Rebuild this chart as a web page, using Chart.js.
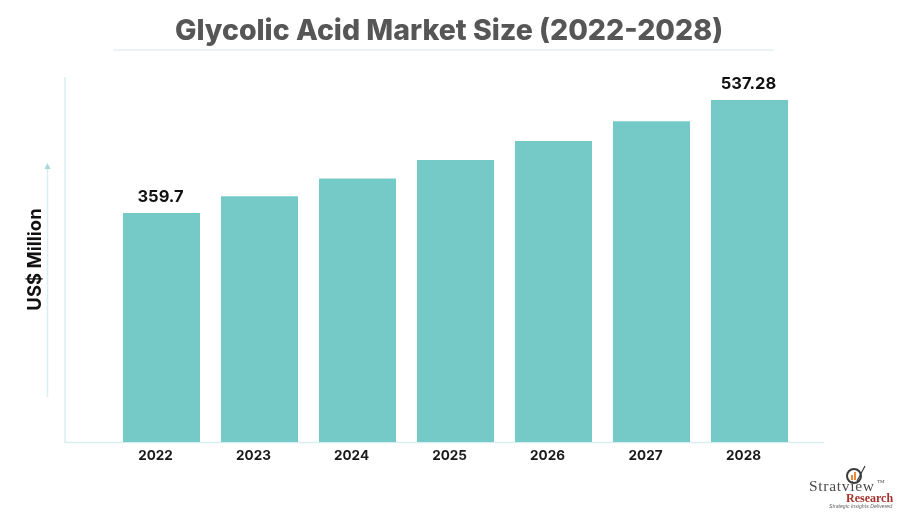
<!DOCTYPE html>
<html>
<head>
<meta charset="utf-8">
<title>Glycolic Acid Market Size</title>
<script src="https://cdn.jsdelivr.net/npm/chart.js@4/dist/chart.umd.min.js"></script>
<style>
  html, body { margin: 0; padding: 0; background: #fff; }
  canvas { display: block; }
</style>
</head>
<body>
<canvas id="marketChart" width="898" height="512"></canvas>
<script>
// values, only the first and last are printed on it
const years = ['2022', '2023', '2024', '2025', '2026', '2027', '2028'];
const marketSize = [359.7, 386, 414, 443, 473, 504, 537.28];
const printedLabels = ['359.7', '', '', '', '', '', '537.28'];

const barColor = '#75cac8';
const lineColor = '#d9eeee';

// thin lines around the plot, the arrow next to the axis title, and the logo
const decorations = {
    id: 'decorations',
    beforeDatasetsDraw(chart) {
        const { ctx, chartArea } = chart;
        ctx.save();
        ctx.strokeStyle = '#e4f0f1';
        ctx.lineWidth = 1.5;
        ctx.beginPath();
        ctx.moveTo(113, 50);
        ctx.lineTo(774, 50);
        ctx.stroke();

        ctx.strokeStyle = lineColor;
        ctx.beginPath();
        ctx.moveTo(65, chartArea.top);
        ctx.lineTo(65, chartArea.bottom + 0.5);
        ctx.lineTo(824, chartArea.bottom + 0.5);
        ctx.stroke();

        ctx.beginPath();
        ctx.moveTo(47.5, 397);
        ctx.lineTo(47.5, 168);
        ctx.stroke();
        ctx.fillStyle = '#a6d8d8';
        ctx.beginPath();
        ctx.moveTo(47.5, 163);
        ctx.lineTo(50.5, 169);
        ctx.lineTo(44.5, 169);
        ctx.closePath();
        ctx.fill();
        ctx.restore();
    },
    afterDraw(chart) {
        const { ctx } = chart;
        ctx.save();
        // magnifier
        ctx.strokeStyle = '#3a3a3a';
        ctx.lineWidth = 2;
        ctx.beginPath();
        ctx.arc(854, 476, 7, 0, Math.PI * 2);
        ctx.stroke();
        ctx.fillStyle = '#e98a3c';
        ctx.fillRect(851, 475, 2, 5);
        ctx.fillRect(854, 472, 2, 8);
        ctx.lineWidth = 1.2;
        ctx.beginPath();
        ctx.moveTo(857, 481);
        ctx.lineTo(865, 466);
        ctx.stroke();

        ctx.textBaseline = 'alphabetic';
        ctx.textAlign = 'left';
        ctx.fillStyle = '#4a4a4a';
        ctx.font = '15.5px "Liberation Serif"';
        ctx.letterSpacing = '0.7px';
        ctx.fillText('Stratview', 809, 491);
        ctx.letterSpacing = '0px';
        ctx.font = '5px "Liberation Serif"';
        ctx.fillText('TM', 877, 483);
        ctx.fillStyle = '#a5312c';
        ctx.font = 'bold 12px "Liberation Serif"';
        ctx.fillText('Research', 846, 502);
        ctx.fillStyle = '#666';
        ctx.font = 'italic 5.2px "Liberation Sans"';
        ctx.fillText('Strategic Insights Delivered', 829, 508);
        ctx.restore();
    }
};

// value printed over a bar, through the library's own bar positions
const barLabels = {
    id: 'barLabels',
    afterDatasetsDraw(chart) {
        const { ctx } = chart;
        ctx.save();
        ctx.fillStyle = '#111';
        ctx.font = '700 16.5px Inter';
        ctx.textAlign = 'center';
        ctx.textBaseline = 'alphabetic';
        chart.getDatasetMeta(0).data.forEach((bar, i) => {
            if (printedLabels[i]) {
                ctx.fillText(printedLabels[i], bar.x - 1, bar.y - 11);
            }
        });
        ctx.restore();
    }
};

new Chart(document.getElementById('marketChart'), {
    type: 'bar',
    data: {
        labels: years,
        datasets: [{
            label: 'US$ Million',
            data: marketSize,
            backgroundColor: barColor,
            borderWidth: 0,
            categoryPercentage: 1,
            barPercentage: 0.786
        }]
    },
    plugins: [decorations, barLabels],
    options: {
        responsive: false,
        animation: false,
        devicePixelRatio: 1,
        scales: {
            x: {
                grid: { display: false },
                border: { display: false },
                afterFit(scale) { scale.height = 70; },
                ticks: {
                    color: '#1a1a1a',
                    font: { family: 'Inter', size: 13.5, weight: '700' },
                    padding: -2.5,
                    labelOffset: -6,
                    maxRotation: 0
                }
            },
            y: {
                min: 0,
                max: 573.4,
                grid: { display: false },
                border: { display: false },
                afterFit(scale) { scale.width = 112.5; },
                ticks: { display: false },
                title: {
                    display: true,
                    text: 'US$ Million',
                    color: '#111',
                    font: { family: 'Inter', size: 18.5, weight: '700' },
                    padding: { top: 24, bottom: 0 }
                }
            },
            // empty axis on the right, keeps the bars off the edge and the title centred
            rightGutter: {
                type: 'linear',
                position: 'right',
                grid: { display: false },
                border: { display: false },
                ticks: { display: false },
                afterFit(scale) { scale.width = 99.5; }
            }
        },
        plugins: {
            legend: { display: false },
            tooltip: { enabled: false },
            title: {
                display: true,
                text: 'Glycolic Acid Market Size (2022-2028)',
                color: '#565656',
                font: { family: 'Inter', size: 28.5, weight: '800', lineHeight: 1.2 },
                padding: { top: 14, bottom: 28.8 }
            }
        }
    }
});
</script>
</body>
</html>
